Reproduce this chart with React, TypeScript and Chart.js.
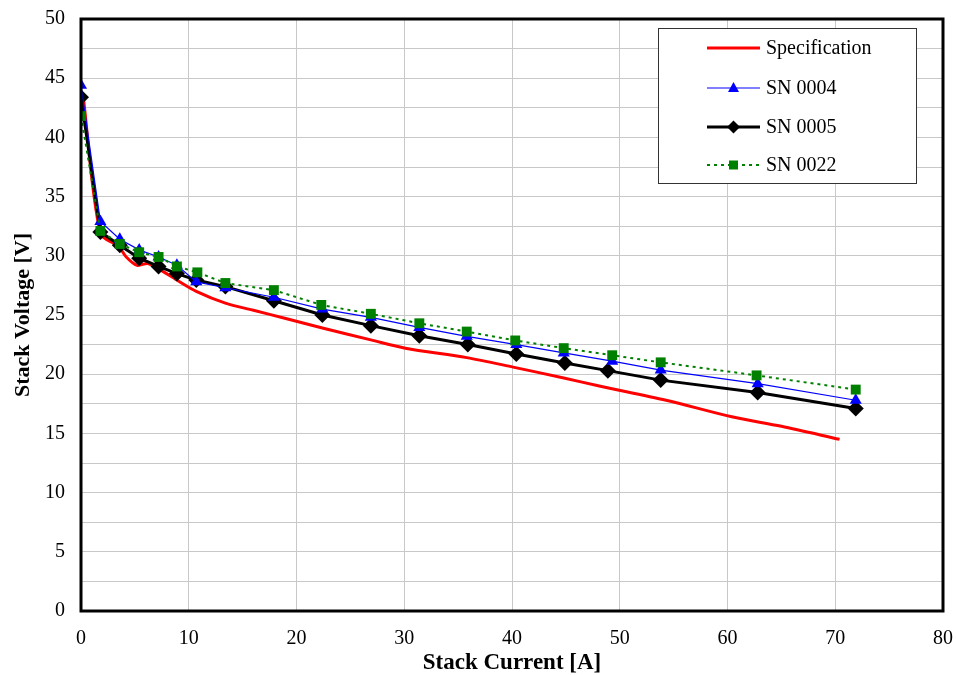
import React, { useEffect, useRef } from "react";
import { Chart, registerables } from "chart.js";

Chart.register(...registerables);

const currentSpec = [0.2, 1.8, 3.5, 4.2, 5.2, 6.2, 7.2, 8.9, 10.7, 13.4, 16.0, 19.0, 22.4, 26.9, 30.1, 35.8, 40.1, 44.7, 48.1, 54.3, 60.4, 65.0, 70.4];
const voltageSpec = [43.5, 31.9, 30.8, 29.9, 29.2, 29.35, 28.9, 27.95, 27.0, 26.0, 25.4, 24.7, 23.9, 22.9, 22.2, 21.4, 20.6, 19.7, 19.0, 17.8, 16.4, 15.6, 14.5];

const current04 = [0, 1.8, 3.6, 5.4, 7.2, 8.9, 10.7, 13.4, 17.9, 22.4, 26.9, 31.4, 35.8, 40.4, 44.8, 49.3, 53.8, 62.8, 71.9];
const voltage04 = [44.4, 32.9, 31.4, 30.5, 29.9, 29.2, 27.8, 27.3, 26.5, 25.5, 24.8, 23.95, 23.2, 22.5, 21.8, 21.1, 20.35, 19.2, 17.8];

const current05 = [0, 1.8, 3.6, 5.4, 7.2, 8.9, 10.7, 13.4, 17.9, 22.4, 26.9, 31.4, 35.9, 40.4, 44.9, 48.9, 53.8, 62.8, 71.9];
const voltage05 = [43.4, 32.0, 30.9, 29.8, 29.1, 28.5, 27.95, 27.4, 26.2, 25.0, 24.1, 23.25, 22.5, 21.7, 20.95, 20.3, 19.5, 18.45, 17.1];

const current22 = [0, 1.8, 3.6, 5.4, 7.2, 8.9, 10.8, 13.4, 17.9, 22.3, 26.9, 31.4, 35.8, 40.3, 44.8, 49.3, 53.8, 62.7, 71.9];
const voltage22 = [41.8, 32.1, 31.0, 30.3, 29.9, 29.1, 28.6, 27.7, 27.1, 25.85, 25.1, 24.3, 23.6, 22.85, 22.2, 21.6, 21.0, 19.9, 18.7];

const seriesNames = ["Specification", "SN 0004", "SN 0005", "SN 0022"];
const xTitle = "Stack Current [A]";
const yTitle = "Stack Voltage [V]";

const toPts = (xs: number[], ys: number[]) => xs.map((x, i) => ({ x, y: ys[i] }));

const FONT = "'Liberation Serif', 'Times New Roman', serif";

const frameAndLegend = {
  id: "frameAndLegend",
  afterDatasetsDraw(chart: any) {
    const { ctx, chartArea } = chart;
    ctx.save();
    ctx.strokeStyle = "#000";
    ctx.lineWidth = 3;
    ctx.strokeRect(chartArea.left, chartArea.top, chartArea.right - chartArea.left, chartArea.bottom - chartArea.top);
    ctx.restore();
  },
  afterDraw(chart: any) {
    const { ctx } = chart;
    ctx.save();
    const bx = 658, by = 28, bw = 258, bh = 155;
    ctx.fillStyle = "#fff";
    ctx.fillRect(bx, by, bw, bh);
    ctx.strokeStyle = "#333";
    ctx.lineWidth = 1;
    ctx.strokeRect(bx + 0.5, by + 0.5, bw, bh);
    const rows = [48, 88, 127, 165];
    const styles = [
      { color: "#ff0000", width: 3, dash: [] as number[], marker: "none" },
      { color: "#0000ff", width: 1.2, dash: [], marker: "tri" },
      { color: "#000000", width: 3, dash: [], marker: "diamond" },
      { color: "#008000", width: 2, dash: [3, 4], marker: "square" },
    ];
    const x0 = 707, x1 = 760, xm = (x0 + x1) / 2;
    rows.forEach((y, i) => {
      const s = styles[i];
      ctx.strokeStyle = s.color;
      ctx.lineWidth = s.width;
      ctx.setLineDash(s.dash);
      ctx.beginPath();
      ctx.moveTo(x0, y);
      ctx.lineTo(x1, y);
      ctx.stroke();
      ctx.setLineDash([]);
      ctx.fillStyle = s.color;
      if (s.marker === "tri") {
        ctx.beginPath();
        ctx.moveTo(xm, y - 6);
        ctx.lineTo(xm + 5.5, y + 4);
        ctx.lineTo(xm - 5.5, y + 4);
        ctx.closePath();
        ctx.fill();
      } else if (s.marker === "diamond") {
        ctx.beginPath();
        ctx.moveTo(xm, y - 6.5);
        ctx.lineTo(xm + 6.5, y);
        ctx.lineTo(xm, y + 6.5);
        ctx.lineTo(xm - 6.5, y);
        ctx.closePath();
        ctx.fill();
      } else if (s.marker === "square") {
        ctx.fillRect(xm - 4.5, y - 4.5, 9, 9);
      }
      ctx.fillStyle = "#000";
      ctx.font = `20px ${FONT}`;
      ctx.textBaseline = "middle";
      ctx.textAlign = "left";
      ctx.fillText(seriesNames[i], 766, y + 1);
    });
    ctx.restore();
  },
};

export default function App() {
  const ref = useRef<HTMLCanvasElement | null>(null);
  useEffect(() => {
    if (!ref.current) return;
    const chart = new Chart(ref.current, {
      type: "scatter",
      data: {
        datasets: [
          {
            label: seriesNames[0],
            data: toPts(currentSpec, voltageSpec),
            showLine: true,
            borderColor: "#ff0000",
            backgroundColor: "#ff0000",
            borderWidth: 3,
            pointRadius: 0,
            tension: 0.3,
            order: 3,
          },
          {
            label: seriesNames[1],
            data: toPts(current04, voltage04),
            showLine: true,
            borderColor: "#0000ff",
            backgroundColor: "#0000ff",
            borderWidth: 1.2,
            pointStyle: "triangle",
            pointRadius: 7,
            pointBorderWidth: 0,
            order: 1,
          },
          {
            label: seriesNames[2],
            data: toPts(current05, voltage05),
            showLine: true,
            borderColor: "#000000",
            backgroundColor: "#000000",
            borderWidth: 3,
            pointStyle: "rectRot",
            pointRadius: 8,
            pointBorderWidth: 0,
            order: 2,
          },
          {
            label: seriesNames[3],
            data: toPts(current22, voltage22),
            showLine: true,
            borderColor: "#008000",
            backgroundColor: "#008000",
            borderWidth: 2,
            borderDash: [3, 4],
            pointStyle: "rect",
            pointRadius: 7,
            pointBorderWidth: 0,
            order: 0,
          },
        ],
      },
      options: {
        animation: false,
        responsive: false,
        maintainAspectRatio: false,
        layout: { padding: { left: 0, right: 13, top: 19, bottom: 0 } },
        plugins: { legend: { display: false }, tooltip: { enabled: false } },
        scales: {
          x: {
            type: "linear",
            min: 0,
            max: 80,
            afterFit: (s: any) => { s.height = 64; s.paddingLeft = 0; s.paddingRight = 0; },
            ticks: { stepSize: 10, color: "#000", font: { family: FONT, size: 20 }, padding: 16 },
            grid: { color: "#c8c8c8", lineWidth: 1, drawTicks: false },
            border: { display: false },
            title: { display: true, text: xTitle, color: "#000", font: { family: FONT, size: 23, weight: "bold", lineHeight: 1 }, padding: { top: 0, bottom: 0 } },
          },
          y: {
            type: "linear",
            min: 0,
            max: 50,
            afterFit: (s: any) => { s.width = 81; s.paddingTop = 0; s.paddingBottom = 0; },
            ticks: {
              stepSize: 2.5,
              color: "#000",
              font: { family: FONT, size: 20 },
              padding: 16,
              callback: (v: any) => (Number(v) % 5 === 0 ? String(v) : ""),
            },
            grid: { color: "#c8c8c8", lineWidth: 1, drawTicks: false },
            border: { display: false },
            title: { display: true, text: yTitle, color: "#000", font: { family: FONT, size: 22, weight: "bold", lineHeight: 1 }, padding: { top: 12, bottom: 0 } },
          },
        },
      },
      plugins: [frameAndLegend],
    });
    return () => chart.destroy();
  }, []);
  return (
    <div style={{ position: "absolute", left: 0, top: 0, width: 956, height: 675, background: "#fff" }}>
      <canvas ref={ref} width={956} height={675} style={{ display: "block" }} />
    </div>
  );
}
